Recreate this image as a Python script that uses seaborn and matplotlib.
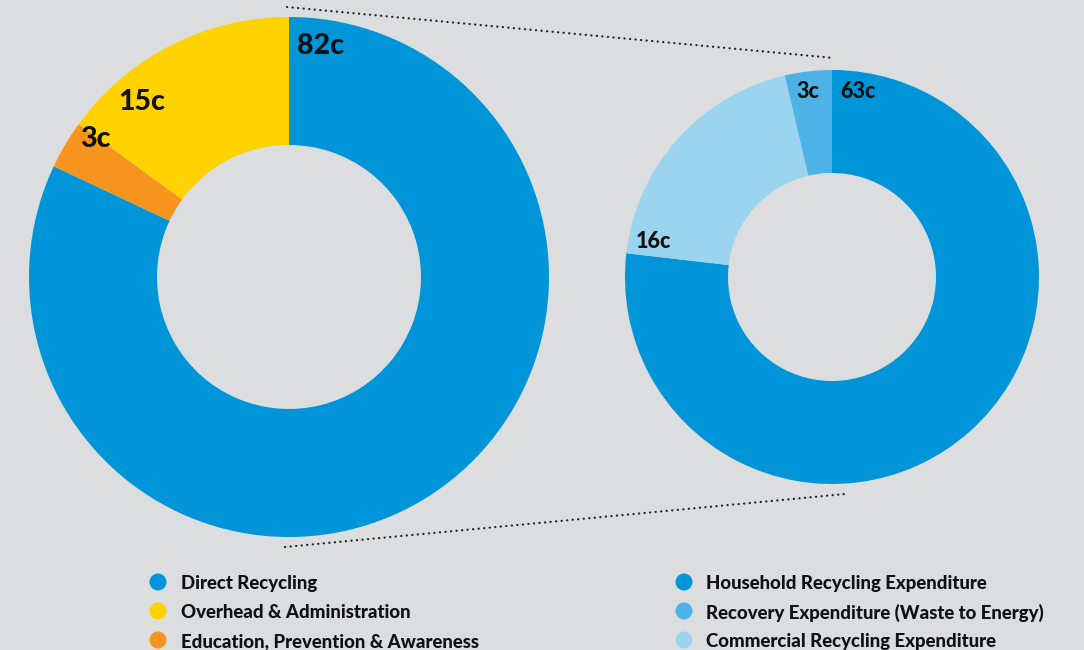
import matplotlib
matplotlib.use("Agg")
import matplotlib.pyplot as plt
import seaborn as sns

# Spending breakdown (cents per dollar)
main_labels = ["Direct Recycling", "Education, Prevention & Awareness", "Overhead & Administration"]
main_values = [82, 3, 15]
main_colors = ["#0095d9", "#f7941d", "#ffd200"]

sub_labels = ["Household Recycling Expenditure", "Commercial Recycling Expenditure",
              "Recovery Expenditure (Waste to Energy)"]
sub_values = [63, 16, 3]
sub_colors = ["#0095d9", "#9ad4ef", "#4db3e6"]

legend_left = ["Direct Recycling", "Overhead & Administration", "Education, Prevention & Awareness"]
legend_left_colors = ["#0095d9", "#ffd200", "#f7941d"]
legend_right = ["Household Recycling Expenditure", "Recovery Expenditure (Waste to Energy)",
                "Commercial Recycling Expenditure"]
legend_right_colors = ["#0095d9", "#4db3e6", "#9ad4ef"]

BG = "#dcdddf"
sns.set_theme(style="white")
plt.rcParams["font.family"] = ["Lato", "DejaVu Sans"]

W, H = 1084, 650
fig = plt.figure(figsize=(W / 100, H / 100), dpi=100, facecolor=BG)
ax = fig.add_axes([0, 0, 1, 1])
ax.set_facecolor(BG)


def py(y):
    # pixel row -> data y (y axis points up)
    return H - y


# Main donut
ax.pie(main_values, colors=main_colors, startangle=90, counterclock=False,
       center=(289, py(277)), radius=260,
       wedgeprops=dict(width=128, linewidth=0))
# Detail donut
ax.pie(sub_values, colors=sub_colors, startangle=90, counterclock=False,
       center=(832, py(277)), radius=207,
       wedgeprops=dict(width=103, linewidth=0))

ax.set_xlim(0, W)
ax.set_ylim(0, H)
ax.set_aspect("equal")
ax.axis("off")

# Value labels
lab = dict(fontweight="black", color="#111111", va="center", ha="left")
main_pos = [(297, 46), (80, 139), (118, 102)]
for v, (x, y) in zip(main_values, main_pos):
    ax.text(x, py(y), f"{v}c", fontsize=20.5, **lab)
sub_pos = [(840, 91), (636, 242), (796, 91)]
for v, (x, y) in zip(sub_values, sub_pos):
    ax.text(x, py(y), f"{v}c", fontsize=15.5, **lab)

# Dotted connector lines
dot = dict(color="#222222", linewidth=1.6, linestyle=(0, (0.1, 2.4)),
           dash_capstyle="round")
ax.plot([287, 834], [py(7), py(58)], **dot)
ax.plot([285, 845], [py(547), py(494)], **dot)

# Legends
rows = [582, 611, 640]
leg = dict(fontsize=13.4, fontweight="black", color="#111111", va="center", ha="left")
for name, c, y in zip(legend_left, legend_left_colors, rows):
    ax.scatter([158], [py(y)], s=150, color=c, edgecolors="none")
    ax.text(181, py(y + 2), name, **leg)
for name, c, y in zip(legend_right, legend_right_colors, rows):
    ax.scatter([684], [py(y)], s=150, color=c, edgecolors="none")
    ax.text(706, py(y + 2), name, **leg)

fig.savefig("out.png", dpi=100, facecolor=BG)
